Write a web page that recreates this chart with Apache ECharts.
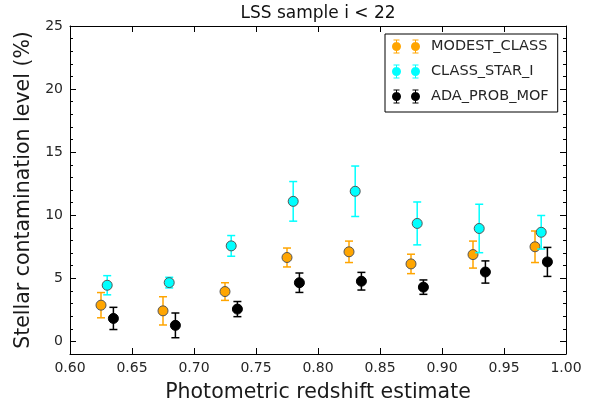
<!DOCTYPE html>
<html>
<head>
<meta charset="utf-8">
<script src="https://cdn.jsdelivr.net/npm/echarts@6/dist/echarts.min.js"></script>
<style>
html,body{margin:0;padding:0;background:#fff;}
#c{width:593px;height:408px;}
</style>
</head>
<body>
<div id="c"></div>
<script>
// ---- data ----
const seriesNames = ['MODEST_CLASS', 'CLASS_STAR_I', 'ADA_PROB_MOF'];
const xModest = [0.625, 0.675, 0.725, 0.775, 0.825, 0.875, 0.925, 0.975];
const yModest = [2.87, 2.42, 3.95, 6.65, 7.10, 6.14, 6.88, 7.50];
const eModest = [1.0, 1.12, 0.7, 0.75, 0.85, 0.77, 1.07, 1.25];

const xStar = [0.63, 0.68, 0.73, 0.78, 0.83, 0.88, 0.93, 0.98];
const yStar = [4.45, 4.66, 7.57, 11.1, 11.9, 9.35, 8.95, 8.65];
const eStar = [0.76, 0.42, 0.82, 1.57, 2.0, 1.7, 1.92, 1.33];

const xAda = [0.635, 0.685, 0.735, 0.785, 0.835, 0.885, 0.935, 0.985];
const yAda = [1.82, 1.27, 2.56, 4.65, 4.77, 4.30, 5.50, 6.30];
const eAda = [0.88, 0.98, 0.6, 0.77, 0.7, 0.57, 0.88, 1.15];

const xTicks = [0.60, 0.65, 0.70, 0.75, 0.80, 0.85, 0.90, 0.95, 1.00];
const yMajorTicks = [0, 5, 10, 15, 20, 25];

const colors = ['#FFA500', '#00FFFF', '#000000'];

function zip3(xs, ys, es) { return xs.map((x, i) => [x, ys[i], es[i]]); }

function errRender(color) {
  return function (params, api) {
    const x = api.value(0), y = api.value(1), e = api.value(2);
    const t = api.coord([x, y + e]);
    const b = api.coord([x, y - e]);
    const w = 4;
    const st = { stroke: color, lineWidth: 1.5 };
    return {
      type: 'group',
      children: [
        { type: 'line', shape: { x1: t[0], y1: t[1], x2: b[0], y2: b[1] }, style: st },
        { type: 'line', shape: { x1: t[0] - w, y1: t[1], x2: t[0] + w, y2: t[1] }, style: st },
        { type: 'line', shape: { x1: b[0] - w, y1: b[1], x2: b[0] + w, y2: b[1] }, style: st }
      ]
    };
  };
}

const sets = [
  zip3(xModest, yModest, eModest),
  zip3(xStar, yStar, eStar),
  zip3(xAda, yAda, eAda)
];

const series = [];
sets.forEach((d, k) => {
  series.push({
    type: 'custom',
    name: seriesNames[k] + '_err',
    renderItem: errRender(colors[k]),
    data: d,
    encode: { x: 0, y: 1 },
    z: 2 + k * 2,
    silent: true
  });
  series.push({
    type: 'scatter',
    name: seriesNames[k],
    data: d.map(p => [p[0], p[1]]),
    symbol: 'circle',
    symbolSize: 10,
    itemStyle: { color: colors[k], opacity: 1, borderColor: k === 2 ? '#000' : '#555', borderWidth: 1 },
    z: 3 + k * 2
  });
});

const iconPath = 'path://' +
  'M4,0h1v14h-1Z M1.5,0h6v1h-6Z M1.5,13h6v1h-6Z M0,7a4.5,4.5 0 1,1 9,0a4.5,4.5 0 1,1 -9,0Z ' +
  'M23,0h1v14h-1Z M20.5,0h6v1h-6Z M20.5,13h6v1h-6Z M19,7a4.5,4.5 0 1,1 9,0a4.5,4.5 0 1,1 -9,0Z';

const labelColor = '#262626';
const font = 'DejaVu Sans';

const chart = echarts.init(document.getElementById('c'), null, { renderer: 'canvas' });
chart.setOption({
  animation: false,
  backgroundColor: '#fff',
  textStyle: { fontFamily: font },
  title: {
    text: 'LSS sample i < 22',
    left: 318, top: 5, textAlign: 'center',
    padding: 0,
    textStyle: { fontFamily: font, fontSize: 17, fontWeight: 'normal', color: '#111' }
  },
  grid: { left: 70, top: 26, width: 496, height: 329, containLabel: false },
  legend: {
    data: seriesNames,
    orient: 'vertical',
    left: 385, top: 34,
    padding: [5, 9, 8, 7],
    itemWidth: 28, itemHeight: 14, itemGap: 10,
    icon: iconPath,
    itemStyle: { borderWidth: 0, opacity: 1 },
    borderColor: '#000', borderWidth: 1, borderRadius: 0,
    backgroundColor: '#fff',
    textStyle: { fontFamily: font, fontSize: 14.5, color: labelColor, padding: [0, 0, 0, 6] }
  },
  xAxis: [
    {
      type: 'value', position: 'bottom', min: 0.6, max: 1.0, interval: 0.05,
      name: 'Photometric redshift estimate', nameLocation: 'middle', nameGap: 28,
      nameTextStyle: { fontFamily: font, fontSize: 20.5, color: '#1a1a1a' },
      axisLine: { show: true, onZero: false, lineStyle: { color: '#000', width: 1 } },
      axisTick: { show: true, inside: true, length: 6, lineStyle: { color: '#000' } },
      axisLabel: { margin: 7, fontFamily: font, fontSize: 14, color: labelColor, formatter: v => v.toFixed(2) },
      splitLine: { show: false }
    },
    {
      type: 'value', position: 'top', min: 0.6, max: 1.0, interval: 0.05,
      axisLine: { show: true, onZero: false, lineStyle: { color: '#000', width: 1 } },
      axisTick: { show: true, inside: true, length: 6, lineStyle: { color: '#000' } },
      axisLabel: { show: false },
      splitLine: { show: false }
    }
  ],
  yAxis: [
    {
      type: 'value', position: 'left', min: -1, max: 25,
      name: 'Stellar contamination level (%)', nameLocation: 'middle', nameGap: 34, nameRotate: 90,
      nameTextStyle: { fontFamily: font, fontSize: 20.5, color: '#1a1a1a' },
      axisLine: { show: true, onZero: false, lineStyle: { color: '#000', width: 1 } },
      axisTick: { show: true, inside: true, length: 6, customValues: yMajorTicks, lineStyle: { color: '#000' } },
      axisLabel: { margin: 7, fontFamily: font, fontSize: 14, color: labelColor, customValues: yMajorTicks },
      splitLine: { show: false }
    },
    {
      type: 'value', position: 'left', min: -1, max: 25, interval: 1,
      axisLine: { show: false, onZero: false },
      axisTick: { show: true, inside: true, length: 3, lineStyle: { color: '#000' } },
      axisLabel: { show: false },
      splitLine: { show: false }
    },
    {
      type: 'value', position: 'right', min: -1, max: 25,
      axisLine: { show: true, onZero: false, lineStyle: { color: '#000', width: 1 } },
      axisTick: { show: true, inside: true, length: 6, customValues: yMajorTicks, lineStyle: { color: '#000' } },
      axisLabel: { show: false, customValues: yMajorTicks },
      splitLine: { show: false }
    },
    {
      type: 'value', position: 'right', min: -1, max: 25, interval: 1,
      axisLine: { show: false, onZero: false },
      axisTick: { show: true, inside: true, length: 3, lineStyle: { color: '#000' } },
      axisLabel: { show: false },
      splitLine: { show: false }
    }
  ],
  series: series
});
</script>
</body>
</html>
